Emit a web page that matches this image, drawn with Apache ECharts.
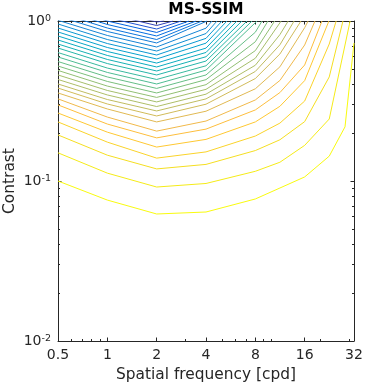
<!DOCTYPE html>
<html><head><meta charset="utf-8">
<script src="https://cdn.jsdelivr.net/npm/echarts@6/dist/echarts.min.js"></script>
<style>html,body{margin:0;padding:0;background:#fff}#c{width:365px;height:387px}</style>
</head><body><div id="c"></div>
<script>
// ---- data ----
const freqTicks = [0.5, 1, 2, 4, 8, 16, 32];
const freqMinorTicks = [0.6, 0.7, 0.8, 0.9, 3, 5, 6, 7, 9, 10, 20, 30];
const contrastTicks = [0.01, 0.1, 1];
const contrastMinorTicks = [0.02,0.03,0.04,0.05,0.06,0.07,0.08,0.09,0.2,0.3,0.4,0.5,0.6,0.7,0.8,0.9];

// contour lines, [spatial frequency, contrast]; lowest (yellow) first
const contour01 = [[0.5,0.1],[1,0.076],[2,0.0622],[4,0.064],[8,0.0772],[11.3,0.0904],[16,0.106],[22.6,0.143],[28.2,0.218],[32,0.729]];
const contour02 = [[0.5,0.150],[1,0.112],[2,0.0917],[4,0.0965],[8,0.115],[11.3,0.131],[16,0.167],[22.6,0.244],[30.3,1]];
const contour03 = [[0.5,0.194],[1,0.145],[2,0.119],[4,0.127],[8,0.155],[11.3,0.181],[16,0.235],[22.6,0.447],[27.4,1]];
const contour04 = [[0.5,0.234],[1,0.175],[2,0.139],[4,0.152],[8,0.191],[11.3,0.230],[16,0.316],[22.6,0.718],[24.9,1]];
const contour05 = [[0.5,0.266],[1,0.202],[2,0.163],[4,0.182],[8,0.234],[11.3,0.293],[16,0.424],[22.5,1]];
const contour06 = [[0.5,0.299],[1,0.227],[2,0.186],[4,0.211],[8,0.278],[11.3,0.357],[16,0.531],[20.4,1]];
const contour07 = [[0.5,0.326],[1,0.251],[2,0.205],[4,0.237],[8,0.321],[11.3,0.425],[16,0.708],[18.5,1]];
const contour08 = [[0.5,0.355],[1,0.282],[2,0.234],[4,0.273],[8,0.377],[11.3,0.517],[16,0.908],[16.8,1]];
const contour09 = [[0.5,0.381],[1,0.303],[2,0.255],[4,0.302],[8,0.437],[11.3,0.622],[15.2,1]];
const contour10 = [[0.5,0.404],[1,0.323],[2,0.274],[4,0.326],[8,0.484],[11.3,0.710],[13.8,1]];
const contour11 = [[0.5,0.431],[1,0.345],[2,0.292],[4,0.349],[8,0.529],[11.3,0.822],[12.7,1]];
const contour12 = [[0.5,0.460],[1,0.368],[2,0.312],[4,0.374],[8,0.585],[11.5,1]];
const contour13 = [[0.5,0.491],[1,0.392],[2,0.333],[4,0.400],[8,0.653],[10.5,1]];
const contour14 = [[0.5,0.523],[1,0.419],[2,0.355],[4,0.430],[8,0.742],[9.56,1]];
const contour15 = [[0.5,0.558],[1,0.447],[2,0.379],[4,0.460],[8,0.851],[8.79,1]];
const contour16 = [[0.5,0.596],[1,0.477],[2,0.404],[4,0.493],[8.2,1]];
const contour17 = [[0.5,0.635],[1,0.508],[2,0.431],[4,0.525],[7.64,1]];
const contour18 = [[0.5,0.678],[1,0.542],[2,0.460],[4,0.562],[7.12,1]];
const contour19 = [[0.5,0.718],[1,0.575],[2,0.487],[4,0.598],[6.63,1]];
const contour20 = [[0.5,0.761],[1,0.609],[2,0.516],[4,0.636],[6.18,1]];
const contour21 = [[0.5,0.806],[1,0.645],[2,0.546],[4,0.677],[5.77,1]];
const contour22 = [[0.5,0.854],[1,0.683],[2,0.579],[4,0.727],[5.37,1]];
const contour23 = [[0.5,0.904],[1,0.723],[2,0.613],[4,0.779],[5.01,1]];
const contour24 = [[0.5,0.958],[1,0.766],[2,0.649],[4,0.835],[4.67,1]];
const contour25 = [[0.5,1.01],[1,0.812],[2,0.688],[4,0.902],[4.35,1]];
const contour26 = [[0.5,1.07],[1,0.860],[2,0.729],[4.06,1]];
const contour27 = [[0.5,1.13],[1,0.904],[2,0.766],[3.78,1]];
const contour28 = [[0.5,1.19],[1,0.951],[2,0.806],[3.48,1]];
const contour29 = [[0.5,1.25],[1,1.0],[2,0.848],[3.15,1]];
const contour30 = [[0.5,1.31],[1,1.05],[2,0.891],[2.82,1]];
const contour31 = [[0.5,1.38],[1,1.11],[2,0.937],[2.52,1]];
const contour32 = [[0.5,1.45],[1,1.16],[2,0.986],[2.22,1]];

const contours = [contour01,contour02,contour03,contour04,contour05,contour06,contour07,contour08,
  contour09,contour10,contour11,contour12,contour13,contour14,contour15,contour16,
  contour17,contour18,contour19,contour20,contour21,contour22,contour23,contour24,
  contour25,contour26,contour27,contour28,contour29,contour30,contour31,contour32];

// ---- style: parula colormap ----
const parula = [[0.2081,0.1663,0.5292],[0.2116,0.1898,0.5777],[0.2123,0.2138,0.6270],[0.2081,0.2386,0.6771],[0.1959,0.2645,0.7279],[0.1707,0.2919,0.7792],[0.1253,0.3242,0.8303],[0.0591,0.3598,0.8683],[0.0117,0.3875,0.8820],[0.0060,0.4086,0.8828],[0.0165,0.4266,0.8786],[0.0329,0.4430,0.8720],[0.0498,0.4586,0.8641],[0.0629,0.4737,0.8554],[0.0723,0.4887,0.8467],[0.0779,0.5040,0.8384],[0.0793,0.5200,0.8312],[0.0749,0.5375,0.8263],[0.0641,0.5570,0.8240],[0.0488,0.5772,0.8228],[0.0343,0.5966,0.8199],[0.0265,0.6137,0.8135],[0.0239,0.6287,0.8038],[0.0231,0.6418,0.7913],[0.0228,0.6535,0.7768],[0.0267,0.6642,0.7607],[0.0384,0.6743,0.7436],[0.0590,0.6838,0.7254],[0.0843,0.6928,0.7062],[0.1133,0.7015,0.6859],[0.1453,0.7098,0.6646],[0.1801,0.7177,0.6424],[0.2178,0.7250,0.6193],[0.2586,0.7317,0.5954],[0.3022,0.7376,0.5712],[0.3482,0.7424,0.5473],[0.3953,0.7459,0.5244],[0.4420,0.7481,0.5033],[0.4871,0.7491,0.4840],[0.5300,0.7491,0.4661],[0.5709,0.7485,0.4494],[0.6099,0.7473,0.4337],[0.6473,0.7456,0.4188],[0.6834,0.7435,0.4044],[0.7184,0.7411,0.3905],[0.7525,0.7384,0.3768],[0.7858,0.7356,0.3633],[0.8185,0.7327,0.3498],[0.8507,0.7299,0.3360],[0.8824,0.7274,0.3217],[0.9139,0.7258,0.3063],[0.9450,0.7261,0.2886],[0.9739,0.7314,0.2666],[0.9938,0.7455,0.2403],[0.9990,0.7653,0.2164],[0.9955,0.7861,0.1967],[0.9880,0.8066,0.1794],[0.9789,0.8271,0.1633],[0.9697,0.8481,0.1475],[0.9626,0.8705,0.1309],[0.9589,0.8949,0.1132],[0.9598,0.9218,0.0948],[0.9661,0.9514,0.0755],[0.9763,0.9831,0.0538]];
function cmap(t){
  const i = Math.max(0, Math.min(63, Math.round(t * 63)));
  const c = parula[i];
  return 'rgb(' + c.map(v => Math.round(v * 255)).join(',') + ')';
}

const AX = '#262626';
const FONT = 'DejaVu Sans';
const n = contours.length;
const series = contours.map((d, k) => ({
  type: 'line', data: d, xAxisIndex: 0, yAxisIndex: 0,
  showSymbol: false, symbol: 'none', silent: true, clip: true, smooth: false,
  lineStyle: { width: 1, color: cmap(0.04 + 0.96 * (1 - k / (n - 1))) },
  z: 2
}));

function xAxisDef(pos, ticks, len, labels, line) {
  return {
    type: 'log', logBase: 2, min: 0.5, max: 32, position: pos,
    axisLine: { show: line, onZero: false, lineStyle: { color: AX, width: 1 } },
    axisTick: { show: true, inside: true, length: len, customValues: ticks, lineStyle: { color: AX, width: 1 } },
    axisLabel: labels ? { show: true, customValues: ticks, color: AX, fontSize: 14, fontFamily: FONT, margin: 7,
      formatter: v => String(+v.toPrecision(6)) } : { show: false },
    splitLine: { show: false }, minorTick: { show: false }
  };
}
function yAxisDef(pos, ticks, len, labels, line) {
  return {
    type: 'log', logBase: 10, min: 0.01, max: 1, position: pos,
    axisLine: { show: line, onZero: false, lineStyle: { color: AX, width: 1 } },
    axisTick: { show: true, inside: true, length: len, customValues: ticks, lineStyle: { color: AX, width: 1 } },
    axisLabel: labels ? { show: true, customValues: ticks, margin: 7,
      formatter: v => '{b|10}{s|' + Math.round(Math.log10(v)) + '}',
      rich: {
        b: { fontSize: 14, fontFamily: FONT, color: AX, lineHeight: 14, verticalAlign: 'bottom' },
        s: { fontSize: 9.5, fontFamily: FONT, color: AX, lineHeight: 10, verticalAlign: 'top', padding: [0, 0, 9, 0] }
      } } : { show: false },
    splitLine: { show: false }, minorTick: { show: false }
  };
}

const xMain = xAxisDef('bottom', freqTicks, 3.5, true, true);
xMain.name = 'Spatial frequency [cpd]';
xMain.nameLocation = 'middle';
xMain.nameGap = 26;
xMain.nameTextStyle = { color: AX, fontSize: 15.4, fontFamily: FONT };
const yMain = yAxisDef('left', contrastTicks, 3.5, true, true);
yMain.name = 'Contrast';
yMain.nameLocation = 'middle';
yMain.nameGap = 41;
yMain.nameMoveOverlap = false;
yMain.nameTextStyle = { color: AX, fontSize: 15.4, fontFamily: FONT };

const option = {
  animation: false,
  backgroundColor: '#ffffff',
  grid: { left: 58, right: 11, top: 21, bottom: 46, containLabel: false, outerBoundsMode: 'none' },
  xAxis: [
    xMain,
    xAxisDef('top', freqTicks, 3.5, false, true),
    xAxisDef('bottom', freqMinorTicks, 2, false, false),
    xAxisDef('top', freqMinorTicks, 2, false, false)
  ],
  yAxis: [
    yMain,
    yAxisDef('right', contrastTicks, 3.5, false, true),
    yAxisDef('left', contrastMinorTicks, 2, false, false),
    yAxisDef('right', contrastMinorTicks, 2, false, false)
  ],
  graphic: [{
    type: 'text', x: 206, y: 2,
    style: { text: 'MS-SSIM', fill: '#000', font: 'bold 15.4px "DejaVu Sans"', textAlign: 'center', textVerticalAlign: 'top' }
  }],
  series: series
};

const chart = echarts.init(document.getElementById('c'), null, { renderer: 'canvas' });
chart.setOption(option);
</script>
</body></html>
